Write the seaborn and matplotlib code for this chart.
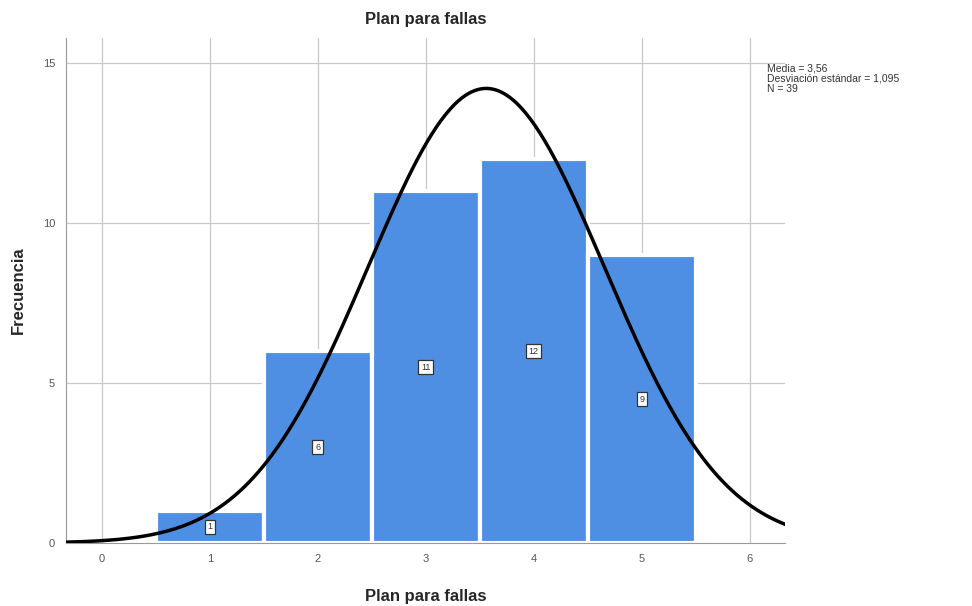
import numpy as np
import pandas as pd
import seaborn as sns
import matplotlib.pyplot as plt

# frecuencias por categoria
categorias = [1, 2, 3, 4, 5]
frecuencias = [1, 6, 11, 12, 9]
media = 3.56
desv = 1.095
n = 39

sns.set_style("white")
plt.rcParams['font.family'] = ['Liberation Sans', 'DejaVu Sans']

df = pd.DataFrame({"plan": categorias, "freq": frecuencias})

fig = plt.figure(figsize=(9.72, 6.06), dpi=100)
ax = fig.add_axes([0.068, 0.104, 0.74, 0.833])

for x in range(0, 7):
    ax.axvline(x, color="#c8c8c8", lw=0.9, zorder=0)
for y in [5, 10, 15]:
    ax.axhline(y, color="#c8c8c8", lw=0.9, zorder=0)

sns.histplot(data=df, x="plan", weights="freq", discrete=True, ax=ax,
             color="#4f8fe3", alpha=1, edgecolor="white", linewidth=3, zorder=2)

for c, f in zip(categorias, frecuencias):
    ax.text(c, f / 2, str(f), ha="center", va="center", fontsize=6.5, color="#333333", zorder=4,
            bbox=dict(boxstyle="square,pad=0.3", fc="white", ec="#333333", lw=0.9))

# curva normal ajustada
xs = np.linspace(-0.33, 6.33, 300)
ys = n / (desv * np.sqrt(2 * np.pi)) * np.exp(-0.5 * ((xs - media) / desv) ** 2)
sns.lineplot(x=xs, y=ys, color="black", lw=2.5, ax=ax, zorder=3)

ax.set_xlim(-0.33, 6.33)
ax.set_ylim(0, 15.78)
ax.set_xticks(range(0, 7))
ax.set_yticks([0, 5, 10, 15])
ax.tick_params(axis="both", labelsize=8, labelcolor="#555555", length=0, pad=8)
sns.despine(ax=ax, top=True, right=True)
ax.spines["left"].set_color("#999999")
ax.spines["bottom"].set_color("#999999")

ax.set_title("Plan para fallas", fontsize=12, fontweight="bold", pad=10)
ax.set_xlabel("Plan para fallas", fontsize=12, fontweight="bold", labelpad=18)
ax.set_ylabel("Frecuencia", fontsize=12, fontweight="bold", labelpad=12)

fig.text(0.789, 0.895, "Media = 3,56\nDesviación estándar = 1,095\nN = 39",
         fontsize=7.5, color="#333333", va="top", ha="left", linespacing=1.0)

fig.savefig("out.png", dpi=100)
